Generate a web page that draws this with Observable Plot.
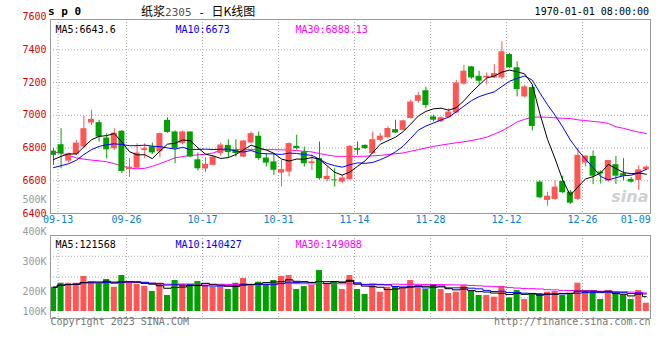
<!DOCTYPE html>
<html><head><meta charset="utf-8">
<script src="https://cdn.jsdelivr.net/npm/d3@7"></script>
<script src="https://cdn.jsdelivr.net/npm/@observablehq/plot@0.6"></script>
<style>
body{margin:0;background:#fff;}
#wrap{position:relative;width:660px;height:360px;overflow:hidden;font-family:"DejaVu Sans Mono",monospace;}
#wrap svg{position:absolute;left:0;background:transparent;}
.hdr{position:absolute;white-space:pre;line-height:1;}
.mono{font-family:"DejaVu Sans Mono",monospace;font-size:11px;}
</style></head><body>
<div id="wrap">
  <div class="hdr" style="left:48px;top:6px;font-size:11px;font-weight:bold;" id="sym"></div>
  <div class="hdr" style="left:141px;top:5px;font-size:12px;font-family:'Noto Sans CJK SC',sans-serif;" id="ttl"></div>
  <div class="hdr" style="right:11px;top:7px;font-size:10px;" id="ts"></div>
</div>
<script>
const symbol = "s p 0";
const titleA = "纸浆", titleCode = "2305", titleDash = " - ", titleB = "日K线图";
const timestamp = "1970-01-01 08:00:00";

const opens = [6781,6820,6720,6761,6806,6953,6955,6861,6796,6902,
6669,6677,6785,6807,6776,6969,6898,6828,6898,6728,
6672,6694,6767,6816,6786,6745,6831,6872,6739,6715,
6647,6653,6810,6776,6705,6735,6607,6605,6592,6607,
6796,6816,6766,6847,6864,6912,6908,6980,7085,7150,
6990,6960,6986,7014,7190,7296,7238,7228,7228,7228,
7371,7290,7112,7169,6592,6480,6486,6596,6530,6486,
6708,6749,6653,6598,6698,6643,6608,6602,6667];
const highs = [6796,6918,6769,6847,6995,7030,6969,6887,6918,6908,
6736,6826,6826,6830,6890,6985,6905,6905,6898,6770,
6740,6750,6830,6850,6851,6847,6898,6898,6766,6766,
6725,6831,6878,6806,6755,6837,6684,6674,6633,6816,
6837,6820,6898,6888,6929,6970,6970,7092,7140,7170,
7000,6990,7040,7214,7306,7296,7269,7259,7310,7449,
7378,7326,7184,7184,6598,6530,6600,6628,6541,6796,
6751,6782,6660,6724,6749,6735,6620,6692,6692];
const lows = [6694,6673,6708,6755,6796,6938,6836,6734,6785,6643,
6620,6673,6734,6760,6740,6890,6704,6820,6740,6660,
6650,6690,6750,6735,6745,6741,6827,6725,6684,6633,
6562,6623,6786,6684,6663,6603,6592,6562,6582,6603,
6755,6790,6762,6837,6857,6888,6904,6978,7075,7040,
6960,6955,6980,7010,7184,7220,7184,7187,7224,7218,
7286,7112,7106,6904,6490,6444,6480,6521,6455,6480,
6684,6577,6580,6592,6577,6600,6585,6541,6663];
const closes = [6755,6765,6765,6830,6918,6975,6867,6789,6891,6657,
6683,6769,6796,6770,6888,6895,6796,6898,6745,6673,
6700,6745,6818,6772,6766,6843,6888,6735,6708,6664,
6668,6827,6796,6704,6715,6613,6627,6600,6617,6810,
6786,6796,6851,6872,6919,6892,6966,7081,7120,7060,
6970,6985,7020,7197,7269,7228,7208,7238,7255,7388,
7290,7157,7173,6932,6496,6506,6561,6527,6463,6755,
6751,6628,6643,6724,6628,6628,6592,6667,6683];
// closes before the first visible day, estimated from where the MA5/MA10 lines start
const priorCloses = [6645,6645,6620,6568,6675,6667,6689,6836,6700];
// MA30
const ma30Line = [6775,6768,6755,6740,6732,6726,6722,6716,6705,6690,
6678,6673,6676,6688,6705,6722,6740,6748,6755,6758,
6762,6770,6786,6788,6790,6790,6790,6790,6790,6790,
6789,6788,6784,6780,6776,6766,6757,6750,6749,6749,
6749,6750,6752,6755,6760,6765,6770,6780,6790,6800,
6810,6818,6825,6832,6838,6846,6855,6866,6885,6905,
6930,6960,6975,6988,6989,6988,6984,6982,6980,6972,
6968,6962,6958,6950,6930,6920,6908,6897,6888];
const volumes = [205,239,239,239,296,239,234,270,205,304,
242,228,211,169,239,135,262,228,228,253,
220,205,205,186,239,279,228,248,228,262,
296,304,186,211,220,346,228,253,186,304,
186,144,228,163,205,211,194,262,211,186,
228,186,152,163,220,169,135,135,121,211,
115,177,101,144,152,163,169,135,152,239,
169,169,101,177,144,135,101,177,70].map(v => v * 1000);

const dateTickIndex = [1,10,20,30,40,50,60,70,77];
const dateTickLabels = ["09-13","09-26","10-17","10-31","11-14","11-28","12-12","12-26","01-09"];
const priceTicks = [7600,7400,7200,7000,6800,6600,6400];
const priceGrid = [7400,7200,7000,6800,6600];
const volTickLabels = ["100K","200K","300K","400K","500K"];
const volTickAt = [0,169000,422000,676000,946000];
const maNames = ["MA5","MA10","MA30"];
const priceMaText = ["6643.6","6673","6888.13"];
const volMaText = ["121568","140427","149088"];

const RED = "#ff5555", GREEN = "#00a000";
const MA_COLORS = ["#000000","#0000ff","#ff00ff"];
const FONT = "DejaVu Sans Mono";
const H = 0.395;
const XDOM = [-H, 78.55];

document.getElementById("sym").textContent = symbol;
document.getElementById("ttl").innerHTML = titleA +
  '<span class="mono" style="color:#555">' + titleCode + '</span>' +
  '<span class="mono">' + titleDash + '</span>' + titleB;
document.getElementById("ts").textContent = timestamp;

const idx = d3.range(closes.length);
const candles = idx.map(i => ({i, o: opens[i], h: highs[i], l: lows[i], c: closes[i], col: closes[i] >= opens[i] ? RED : GREEN}));
const allC = priorCloses.concat(closes);
const P = priorCloses.length;
const maOf = n => idx.map(i => ({i, v: d3.mean(allC.slice(i + P - n + 1, i + P + 1))}));
const ma5 = maOf(5), ma10 = maOf(10);
const ma30 = idx.map(i => ({i, v: ma30Line[i]}));
const vols = idx.map(i => ({i, v: volumes[i], col: candles[i].col}));
const vMa = n => idx.map(i => ({i, v: d3.mean(volumes.slice(Math.max(0, i - n + 1), i + 1))}));
const dateTicks = dateTickIndex.map((i, k) => ({x: i - H, label: dateTickLabels[k]}));
const gridX = dateTicks.slice(0, -1).map(d => d.x);

const grid = {stroke: "#aaa", strokeDasharray: "1,2", strokeWidth: 1};
const txt = {fontFamily: FONT, fontSize: 10};

const maLabels = (vals, dy) => maNames.map((n, k) =>
  Plot.text([n + ":" + vals[k]], {frameAnchor: "top-left", dx: 5 + k * 120, dy, textAnchor: "start", fill: MA_COLORS[k], ...txt}));

const price = Plot.plot({
  width: 660, height: 228, marginTop: 19, marginBottom: 15, marginLeft: 50, marginRight: 10,
  x: {domain: XDOM, axis: null},
  y: {domain: [6400, 7585], axis: null},
  color: {type: "identity"},
  style: {background: "transparent", overflow: "visible"},
  marks: [
    Plot.ruleY(priceGrid, grid),
    Plot.ruleX(gridX, grid),
    Plot.text(["sina"], {frameAnchor: "bottom-right", dx: -2, dy: -12, textAnchor: "end", fill: "#d0d0d0", fontSize: 16, fontWeight: "bold", fontStyle: "italic", fontFamily: "DejaVu Sans"}),
    Plot.line(ma30, {x: "i", y: "v", stroke: MA_COLORS[2], strokeWidth: 1}),
    Plot.ruleX(candles, {x: "i", y1: "l", y2: "h", stroke: "col", strokeWidth: 1}),
    Plot.rect(candles, {x1: d => d.i - H, x2: d => d.i + H, y1: "o", y2: "c", fill: "col"}),
    Plot.line(ma10, {x: "i", y: "v", stroke: MA_COLORS[1], strokeWidth: 1}),
    Plot.line(ma5, {x: "i", y: "v", stroke: MA_COLORS[0], strokeWidth: 1}),
    Plot.frame({stroke: "#999"}),
    Plot.text(priceTicks, {y: d => d, text: d => String(d), frameAnchor: "left", dx: -4, textAnchor: "end", fill: "#e00000", ...txt}),
    Plot.text(dateTicks, {x: "x", text: "label", frameAnchor: "bottom", dy: 9, fill: "#0a7fd0", ...txt}),
    ...maLabels(priceMaText, 6)
  ]
});
price.style.top = "0px";

const vDom = [-59150, 642200];
const volGrid = [1, 2, 3].map(k => vDom[0] + k * (vDom[1] - vDom[0]) / 4);
const vol = Plot.plot({
  width: 660, height: 170, marginTop: 45, marginBottom: 42, marginLeft: 50, marginRight: 10,
  x: {domain: XDOM, axis: null},
  y: {domain: vDom, axis: null},
  color: {type: "identity"},
  style: {background: "transparent", overflow: "visible"},
  marks: [
    Plot.ruleY(volGrid, grid),
    Plot.ruleX(gridX, grid),
    Plot.rect(vols, {x1: d => d.i - H, x2: d => d.i + H, y1: 0, y2: "v", fill: "col"}),
    Plot.line(vMa(30), {x: "i", y: "v", stroke: MA_COLORS[2], strokeWidth: 1, curve: "step"}),
    Plot.line(vMa(10), {x: "i", y: "v", stroke: MA_COLORS[1], strokeWidth: 1, curve: "step"}),
    Plot.line(vMa(5), {x: "i", y: "v", stroke: MA_COLORS[0], strokeWidth: 1, curve: "step"}),
    Plot.frame({stroke: "#999"}),
    Plot.text(volTickAt, {y: d => d, text: (d, k) => volTickLabels[k], frameAnchor: "left", dx: -4, textAnchor: "end", fill: "#999", ...txt}),
    ...maLabels(volMaText, 5),
    Plot.text(["Copyright 2023 SINA.COM"], {frameAnchor: "bottom-left", dy: 6, textAnchor: "start", fill: "#777", ...txt}),
    Plot.text(["http://finance.sina.com.cn"], {frameAnchor: "bottom-right", dy: 6, textAnchor: "end", fill: "#777", ...txt})
  ]
});
vol.style.top = "190px";

const wrap = document.getElementById("wrap");
wrap.appendChild(price);
wrap.appendChild(vol);
</script>
</body></html>
